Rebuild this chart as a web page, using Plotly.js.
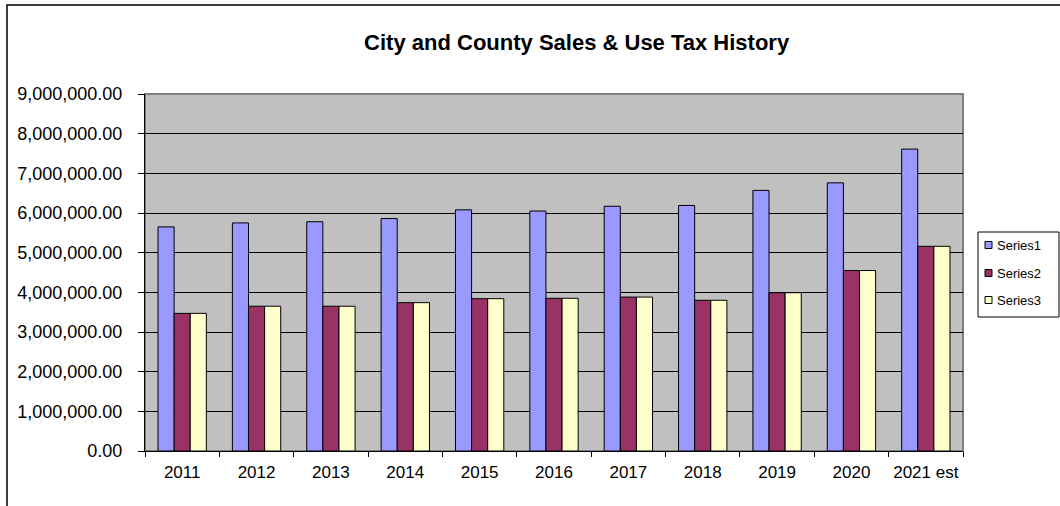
<!DOCTYPE html>
<html>
<head>
<meta charset="utf-8">
<script src="https://cdn.plot.ly/plotly-3.0.1.min.js"></script>
<style>html,body{margin:0;padding:0;background:#fff;}#chart{width:1060px;height:506px;}</style>
</head>
<body>
<div id="chart"></div>
<script>
const categories = ["2011","2012","2013","2014","2015","2016","2017","2018","2019","2020","2021 est"];
const series1 = [5650000,5750000,5780000,5860000,6080000,6050000,6170000,6190000,6570000,6760000,7610000];
const series2 = [3470000,3650000,3650000,3740000,3840000,3850000,3880000,3800000,3990000,4550000,5160000];
const series3 = [3470000,3650000,3650000,3740000,3840000,3850000,3880000,3800000,3990000,4550000,5160000];
const seriesNames = ["Series1","Series2","Series3"];
const yTicks = [0,1000000,2000000,3000000,4000000,5000000,6000000,7000000,8000000,9000000];

const colors = ["#9999FF","#993366","#FFFFCC"];
const vals = [series1, series2, series3];
const FONT = "Liberation Sans, Arial, sans-serif";

const traces = vals.map((v,i)=>({
  type:"bar", name:seriesNames[i], x:categories, y:v,
  marker:{color:colors[i], line:{color:"#000", width:1}},
  hoverinfo:"x+y", showlegend:false
}));

// pixel -> paper helpers (plot area 145..963 x, 94..451 y)
const PL=145, PW=818, PT=94, PH=357;
const px = v => (v-PL)/PW;
const py = v => (PT+PH-v)/PH;

const shapes = [
  {type:"rect", xref:"paper", yref:"paper", x0:0, x1:1, y0:0, y1:1, line:{color:"#808080", width:2}, layer:"below"},
  {type:"rect", xref:"paper", yref:"paper", x0:px(7), x1:px(1200), y0:py(600), y1:py(5), line:{color:"#000", width:1.5}},
  {type:"rect", xref:"paper", yref:"paper", x0:px(978), x1:px(1059), y0:py(317), y1:py(232), line:{color:"#000", width:1}, fillcolor:"#fff"}
];
const annotations = [];
const legY = [245, 273, 300];
seriesNames.forEach((n,i)=>{
  shapes.push({type:"rect", xref:"paper", yref:"paper", x0:px(985), x1:px(992), y0:py(legY[i]+3.5), y1:py(legY[i]-3.5),
    line:{color:"#000", width:1}, fillcolor:colors[i]});
  annotations.push({xref:"paper", yref:"paper", x:px(995), y:py(legY[i]), xanchor:"left", yanchor:"middle",
    text:n, showarrow:false, font:{family:FONT, size:13, color:"#000"}});
});

const layout = {
  width:1060, height:506,
  margin:{l:145, r:97, t:94, b:55, pad:0, autoexpand:false},
  paper_bgcolor:"#fff", plot_bgcolor:"#C0C0C0",
  barmode:"group", bargap:0.35, bargroupgap:0,
  font:{family:FONT, color:"#000"},
  title:{text:"<b>City and County Sales &amp; Use Tax History</b>", font:{family:FONT, size:22, color:"#000"},
    xref:"container", yref:"container", x:0.544, y:0.917, xanchor:"center", yanchor:"middle"},
  xaxis:{type:"category", showline:true, linecolor:"#000", linewidth:1, ticks:"outside", tickson:"boundaries",
    ticklen:5, tickcolor:"#000", tickangle:0, tickfont:{family:FONT, size:17}, ticklabelstandoff:6,
    showgrid:false, fixedrange:true},
  yaxis:{range:[0,9000000], tickvals:yTicks, tickformat:",.2f", showline:true, linecolor:"#000", linewidth:1,
    ticks:"outside", ticklen:6, tickcolor:"#000", tickfont:{family:FONT, size:18}, ticklabelstandoff:12,
    showgrid:true, gridcolor:"#000", gridwidth:1, zeroline:false, fixedrange:true},
  showlegend:false,
  shapes:shapes,
  annotations:annotations
};

Plotly.newPlot("chart", traces, layout, {displayModeBar:false, staticPlot:true});
</script>
</body>
</html>
